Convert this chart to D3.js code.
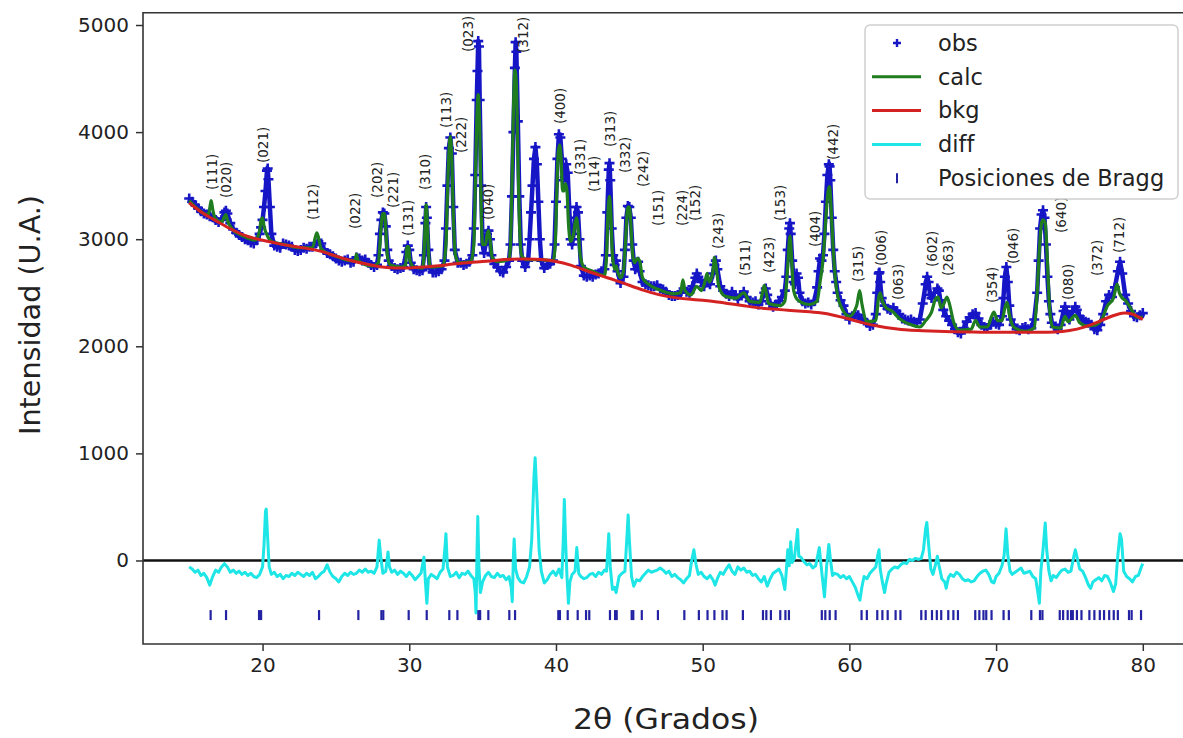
<!DOCTYPE html>
<html lang="es">

<head>
    <meta charset="UTF-8">
    <script src="https://d3js.org/d3.v7.min.js"></script>
    <title>Refinamiento Rietveld</title>
    <style>
        body {
            margin: 0;
            background: #fff;
            overflow: hidden;
        }

        svg {
            display: block;
        }

        text {
            font-family: "DejaVu Sans", sans-serif;
            fill: #222;
        }
    </style>
</head>

<body>
</body>
<script>
    // 2θ (grados) e intensidad
    const obs = [
        [15.0, 3380], [15.2, 3350], [15.4, 3320], [15.6, 3290], [15.8, 3260], [16.0, 3240], [16.2, 3230], [16.4, 3215],
        [16.6, 3205], [16.8, 3180], [17.0, 3160], [17.2, 3180], [17.4, 3250], [17.5, 3265], [17.6, 3240], [17.8, 3150],
        [18.0, 3090], [18.2, 3060], [18.4, 3040], [18.6, 3020], [18.8, 3000], [19.0, 2990], [19.2, 2970], [19.4, 2960],
        [19.6, 2990], [19.8, 3050], [19.9, 3110], [20.0, 3180], [20.1, 3300], [20.2, 3450], [20.3, 3640], [20.35, 3660],
        [20.4, 3560], [20.5, 3300], [20.6, 3050], [20.8, 2940], [21.0, 2930], [21.2, 2920], [21.4, 2960], [21.6, 2950],
        [21.8, 2940], [22.0, 2930], [22.2, 2900], [22.4, 2890], [22.6, 2900], [22.8, 2920], [23.0, 2910], [23.2, 2930],
        [23.4, 2930], [23.6, 2960], [23.8, 2980], [24.0, 2960], [24.2, 2900], [24.4, 2870], [24.6, 2860], [24.8, 2840],
        [25.0, 2820], [25.2, 2800], [25.4, 2790], [25.6, 2800], [25.8, 2810], [26.0, 2780], [26.2, 2790], [26.4, 2830],
        [26.6, 2820], [26.8, 2800], [27.0, 2810], [27.2, 2780], [27.4, 2760], [27.6, 2740], [27.8, 2760], [27.9, 2850],
        [28.0, 3050], [28.1, 3180], [28.2, 3250], [28.3, 3240], [28.4, 3120], [28.5, 2900], [28.6, 2800], [28.8, 2750],
        [29.0, 2730], [29.2, 2720], [29.4, 2730], [29.6, 2740], [29.8, 2880], [29.9, 2940], [30.0, 2900], [30.1, 2780],
        [30.3, 2720], [30.5, 2710], [30.7, 2700], [30.9, 2710], [31.0, 2850], [31.1, 3150], [31.15, 3300], [31.2, 3200],
        [31.3, 2900], [31.4, 2730], [31.6, 2690], [31.8, 2690], [32.0, 2700], [32.2, 2720], [32.4, 2800], [32.5, 3100],
        [32.6, 3500], [32.7, 3850], [32.8, 3950], [32.9, 3800], [33.0, 3300], [33.1, 2900], [33.3, 2780], [33.5, 2780],
        [33.7, 2760], [33.9, 2770], [34.1, 2790], [34.3, 2850], [34.4, 3100], [34.5, 3600], [34.6, 4300], [34.65, 4570],
        [34.7, 4850], [34.75, 4800], [34.8, 4300], [34.9, 3500], [35.0, 2950], [35.1, 2870], [35.2, 2950], [35.3, 3050],
        [35.4, 3080], [35.5, 3000], [35.6, 2850], [35.8, 2770], [36.0, 2740], [36.2, 2700], [36.4, 2690], [36.6, 2740],
        [36.8, 2800], [36.9, 2950], [37.0, 3400], [37.1, 4000], [37.2, 4600], [37.25, 4840], [37.3, 4750], [37.4, 4100],
        [37.5, 3400], [37.6, 2950], [37.7, 2800], [37.9, 2740], [38.1, 2800], [38.2, 3000], [38.3, 3250], [38.4, 3500],
        [38.5, 3750], [38.6, 3860], [38.7, 3700], [38.8, 3350], [38.9, 3000], [39.0, 2800], [39.2, 2730], [39.4, 2760],
        [39.6, 2770], [39.8, 2800], [39.9, 2950], [40.0, 3350], [40.1, 3750], [40.2, 3980], [40.3, 3950], [40.4, 3750],
        [40.5, 3550], [40.6, 3580], [40.7, 3700], [40.8, 3620], [40.9, 3300], [41.0, 3000], [41.1, 2950], [41.2, 3050],
        [41.3, 3200], [41.4, 3300], [41.5, 3250], [41.6, 3000], [41.7, 2750], [41.9, 2660], [42.1, 2650], [42.3, 2660],
        [42.5, 2650], [42.7, 2670], [42.9, 2680], [43.1, 2700], [43.3, 2720], [43.4, 2850], [43.5, 3250], [43.6, 3650],
        [43.65, 3710], [43.7, 3550], [43.8, 3100], [43.9, 2850], [44.0, 2760], [44.1, 2800], [44.2, 2700], [44.4, 2590],
        [44.6, 2650], [44.7, 2900], [44.8, 3200], [44.9, 3310], [45.0, 3300], [45.1, 3200], [45.2, 2950], [45.3, 2800],
        [45.4, 2720], [45.5, 2780], [45.6, 2790], [45.7, 2700], [45.9, 2600], [46.1, 2580], [46.3, 2570], [46.5, 2560],
        [46.7, 2560], [46.9, 2570], [47.1, 2540], [47.3, 2530], [47.5, 2510], [47.7, 2480], [47.9, 2470], [48.1, 2470],
        [48.3, 2480], [48.5, 2500], [48.7, 2540], [48.9, 2510], [49.1, 2500], [49.3, 2560], [49.5, 2640], [49.6, 2680],
        [49.7, 2650], [49.9, 2600], [50.1, 2560], [50.3, 2620], [50.5, 2580], [50.7, 2680], [50.8, 2760], [50.9, 2800],
        [51.0, 2720], [51.2, 2560], [51.4, 2520], [51.6, 2490], [51.8, 2470], [52.0, 2510], [52.2, 2480], [52.4, 2440],
        [52.6, 2480], [52.8, 2510], [53.0, 2460], [53.2, 2420], [53.4, 2410], [53.6, 2420], [53.8, 2390], [54.0, 2420],
        [54.2, 2500], [54.3, 2540], [54.4, 2480], [54.6, 2400], [54.8, 2370], [55.0, 2390], [55.2, 2420], [55.4, 2460],
        [55.6, 2520], [55.7, 2650], [55.8, 2900], [55.9, 3100], [55.95, 3150], [56.0, 3050], [56.1, 2800], [56.2, 2600],
        [56.3, 2580], [56.4, 2680], [56.5, 2640], [56.6, 2500], [56.8, 2420], [57.0, 2400], [57.2, 2410], [57.4, 2390],
        [57.6, 2420], [57.8, 2550], [57.9, 2700], [58.0, 2820], [58.1, 2800], [58.2, 2850], [58.3, 3050], [58.4, 3350],
        [58.5, 3600], [58.6, 3700], [58.65, 3680], [58.7, 3550], [58.8, 3200], [58.9, 2900], [59.0, 2700], [59.1, 2600],
        [59.2, 2500], [59.4, 2430], [59.6, 2380], [59.8, 2300], [60.0, 2250], [60.2, 2280], [60.4, 2300], [60.6, 2290],
        [60.8, 2260], [61.0, 2240], [61.2, 2220], [61.4, 2190], [61.6, 2200], [61.8, 2300], [61.9, 2500], [62.0, 2680],
        [62.05, 2690], [62.1, 2600], [62.2, 2450], [62.4, 2380], [62.6, 2350], [62.8, 2340], [63.0, 2360], [63.2, 2330],
        [63.4, 2300], [63.6, 2260], [63.8, 2250], [64.0, 2240], [64.2, 2250], [64.4, 2230], [64.6, 2220], [64.8, 2250],
        [65.0, 2400], [65.2, 2580], [65.3, 2650], [65.4, 2600], [65.5, 2480], [65.6, 2450], [65.8, 2500], [66.0, 2540],
        [66.1, 2520], [66.2, 2430], [66.4, 2340], [66.6, 2280], [66.8, 2240], [67.0, 2200], [67.2, 2160], [67.4, 2130],
        [67.6, 2120], [67.8, 2170], [68.0, 2230], [68.2, 2270], [68.4, 2300], [68.6, 2310], [68.8, 2260], [69.0, 2200],
        [69.2, 2180], [69.4, 2170], [69.6, 2200], [69.8, 2230], [70.0, 2210], [70.2, 2200], [70.4, 2280], [70.5, 2450],
        [70.6, 2650], [70.7, 2740], [70.8, 2600], [70.9, 2380], [71.0, 2250], [71.2, 2200], [71.4, 2160], [71.6, 2150],
        [71.8, 2170], [72.0, 2180], [72.2, 2160], [72.4, 2170], [72.6, 2250], [72.8, 2500], [72.9, 2800], [73.0, 3100],
        [73.1, 3230], [73.2, 3270], [73.3, 3200], [73.4, 2950], [73.5, 2650], [73.6, 2420], [73.7, 2300], [73.8, 2220],
        [74.0, 2180], [74.2, 2160], [74.4, 2200], [74.6, 2330], [74.7, 2370], [74.8, 2330], [75.0, 2250], [75.2, 2320],
        [75.4, 2370], [75.5, 2340], [75.7, 2280], [75.9, 2250], [76.1, 2230], [76.3, 2220], [76.5, 2200], [76.7, 2160],
        [76.9, 2150], [77.1, 2200], [77.3, 2300], [77.5, 2420], [77.7, 2480], [77.9, 2460], [78.1, 2550], [78.3, 2700],
        [78.45, 2790], [78.6, 2680], [78.8, 2480], [79.0, 2400], [79.2, 2330], [79.4, 2280], [79.6, 2270], [79.8, 2290],
        [80.0, 2310]
    ]

    const calc = [
        [15.0, 3360], [15.5, 3290], [16.0, 3240], [16.3, 3230], [16.45, 3330], [16.5, 3360], [16.6, 3280], [16.8, 3190],
        [17.2, 3160], [17.4, 3210], [17.5, 3230], [17.6, 3180], [17.9, 3100], [18.5, 3040], [19.0, 3010], [19.5, 2990],
        [19.8, 3080], [19.9, 3180], [20.0, 3200], [20.1, 3120], [20.3, 3040], [20.6, 2980], [21.5, 2950], [22.5, 2920],
        [23.4, 2920], [23.6, 3020], [23.7, 3060], [23.8, 3020], [24.0, 2910], [25.0, 2840], [26.0, 2800], [26.3, 2800],
        [26.4, 2860], [26.5, 2800], [27.5, 2750], [27.9, 2780], [28.0, 2950], [28.1, 3150], [28.2, 3240], [28.3, 3240],
        [28.4, 3100], [28.5, 2860], [28.7, 2760], [29.5, 2740], [29.75, 2760], [29.85, 2930], [29.95, 2930], [30.05, 2800],
        [30.3, 2740], [30.9, 2730], [31.0, 2850], [31.1, 3200], [31.15, 3320], [31.2, 3250], [31.3, 2900], [31.45, 2740],
        [32.3, 2750], [32.5, 2950], [32.6, 3400], [32.7, 3800], [32.8, 3960], [32.9, 3750], [33.0, 3250], [33.15, 2850],
        [33.4, 2780], [34.2, 2790], [34.4, 2950], [34.5, 3500], [34.6, 4100], [34.7, 4350], [34.8, 4050], [34.9, 3300],
        [35.0, 2950], [35.2, 2950], [35.3, 3040], [35.4, 3080], [35.5, 3000], [35.65, 2830], [36.0, 2790], [36.8, 2810],
        [36.9, 2950], [37.0, 3500], [37.1, 4200], [37.2, 4580], [37.3, 4450], [37.4, 3800], [37.5, 3200], [37.65, 2850],
        [38.0, 2810], [39.0, 2810], [39.8, 2800], [39.95, 2950], [40.05, 3400], [40.15, 3800], [40.25, 3880], [40.35, 3750],
        [40.45, 3450], [40.55, 3450], [40.65, 3520], [40.75, 3450], [40.85, 3150], [41.0, 2980], [41.2, 3050], [41.3, 3150],
        [41.4, 3200], [41.5, 3100], [41.65, 2850], [41.9, 2740], [42.5, 2700], [43.3, 2660], [43.45, 2850], [43.55, 3250],
        [43.65, 3400], [43.75, 3200], [43.85, 2850], [44.0, 2720], [44.1, 2750], [44.2, 2700], [44.4, 2640], [44.6, 2700],
        [44.75, 3000], [44.9, 3300], [45.0, 3300], [45.1, 3150], [45.2, 2900], [45.35, 2780], [45.55, 2820], [45.7, 2800],
        [45.9, 2640], [46.3, 2580], [47.0, 2530], [48.0, 2490], [48.5, 2500], [48.65, 2620], [48.8, 2520], [49.2, 2480],
        [49.6, 2560], [49.9, 2520], [50.15, 2600], [50.3, 2680], [50.45, 2600], [50.7, 2700], [50.8, 2830], [50.9, 2760],
        [51.1, 2560], [51.5, 2470], [52.3, 2450], [52.8, 2500], [53.2, 2420], [53.9, 2410], [54.1, 2520], [54.2, 2570],
        [54.3, 2520], [54.5, 2400], [55.3, 2380], [55.6, 2420], [55.8, 2750], [55.95, 3030], [56.05, 2850], [56.2, 2520],
        [56.5, 2430], [57.3, 2390], [57.8, 2420], [58.0, 2600], [58.2, 2800], [58.4, 3200], [58.55, 3450], [58.65, 3490],
        [58.75, 3300], [58.9, 2900], [59.1, 2560], [59.4, 2380], [60.0, 2280], [60.5, 2380], [60.7, 2520], [60.85, 2400],
        [61.2, 2230], [61.8, 2240], [62.0, 2460], [62.1, 2500], [62.25, 2420], [62.5, 2360], [62.9, 2330], [63.4, 2260],
        [64.2, 2200], [64.8, 2180], [65.2, 2240], [65.6, 2320], [65.9, 2450], [66.05, 2460], [66.25, 2360], [66.45, 2400],
        [66.65, 2460], [66.85, 2380], [67.1, 2230], [67.5, 2150], [68.3, 2160], [68.6, 2240], [68.9, 2180], [69.4, 2180],
        [69.7, 2280], [69.85, 2320], [70.1, 2240], [70.4, 2240], [70.6, 2360], [70.75, 2410], [70.9, 2300], [71.2, 2180],
        [72.0, 2140], [72.6, 2170], [72.8, 2500], [72.95, 2900], [73.1, 3150], [73.2, 3180], [73.35, 3150], [73.5, 2800],
        [73.65, 2350], [73.85, 2180], [74.4, 2170], [74.7, 2280], [74.9, 2230], [75.4, 2290], [75.7, 2220], [76.2, 2190],
        [76.8, 2200], [77.2, 2250], [77.6, 2380], [78.0, 2450], [78.25, 2580], [78.4, 2500], [78.6, 2450], [78.8, 2430],
        [79.2, 2350], [79.6, 2270], [80.0, 2270]
    ]

    const bkg = [
        [15, 3340], [16, 3230], [17, 3160], [18, 3080], [19, 3020], [20, 2990], [21, 2960], [22, 2935], [23, 2915],
        [24, 2890], [25, 2840], [26, 2800], [27, 2770], [28, 2740], [29, 2730], [30, 2730], [31, 2740], [32, 2750],
        [33, 2770], [34, 2780], [35, 2790], [36, 2805], [37, 2815], [38, 2815], [39, 2812], [40, 2795], [41, 2760],
        [42, 2710], [43, 2660], [44, 2620], [45, 2570], [46, 2520], [47, 2480], [48, 2455], [49, 2440], [50, 2430],
        [51, 2415], [52, 2395], [53, 2375], [54, 2355], [55, 2345], [56, 2335], [57, 2325], [58, 2315], [59, 2290],
        [60, 2255], [61, 2215], [62, 2185], [63, 2165], [64, 2150], [65, 2145], [66, 2140], [67, 2135], [68, 2133],
        [69, 2132], [70, 2132], [71, 2131], [72, 2130], [73, 2130], [74, 2132], [75, 2145], [76, 2175], [77, 2230],
        [78, 2290], [78.8, 2320], [79.4, 2300], [80, 2250]
    ]

    const diff = [
        [15.0, -60], [15.2, -80], [15.4, -110], [15.6, -90], [15.8, -140], [16.0, -120], [16.2, -160], [16.4, -230],
        [16.6, -150], [16.8, -90], [17.0, -110], [17.2, -60], [17.4, -30], [17.6, -60], [17.8, -110], [18.0, -90],
        [18.2, -120], [18.4, -100], [18.6, -130], [18.8, -110], [19.0, -140], [19.2, -120], [19.4, -150], [19.6, -160],
        [19.8, -130], [20.0, -60], [20.1, 150], [20.2, 460], [20.25, 480], [20.35, 200], [20.45, -60], [20.6, -130],
        [20.8, -110], [21.0, -150], [21.2, -130], [21.4, -170], [21.6, -140], [21.8, -150], [22.0, -120], [22.2, -140],
        [22.4, -110], [22.6, -130], [22.8, -150], [23.0, -120], [23.2, -140], [23.4, -110], [23.6, -170], [23.8, -150],
        [24.0, -120], [24.2, -100], [24.4, -40], [24.6, -110], [24.8, -150], [25.0, -170], [25.2, -200], [25.4, -150],
        [25.6, -120], [25.8, -140], [26.0, -110], [26.2, -130], [26.4, -120], [26.6, -90], [26.8, -110], [27.0, -80],
        [27.2, -110], [27.4, -100], [27.6, -120], [27.8, -60], [27.95, 190], [28.05, 40], [28.2, -120], [28.4, -100],
        [28.55, 80], [28.65, -60], [28.8, -110], [29.0, -90], [29.2, -130], [29.4, -100], [29.6, -120], [29.8, -150],
        [30.0, -110], [30.2, -140], [30.4, -180], [30.6, -150], [30.8, -120], [31.0, 30], [31.1, -200], [31.2, -400],
        [31.3, -170], [31.5, -130], [31.7, -150], [31.9, -170], [32.1, -110], [32.3, -80], [32.45, 150], [32.5, 250],
        [32.6, -60], [32.8, -150], [33.0, -140], [33.2, -110], [33.4, -160], [33.6, -120], [33.8, -130], [34.0, -100],
        [34.2, -140], [34.4, -170], [34.5, -300], [34.55, -490], [34.62, 100], [34.67, 410], [34.75, -60], [34.85, -300],
        [35.0, -200], [35.2, -140], [35.4, -110], [35.6, -150], [35.8, -160], [36.0, -120], [36.2, -150], [36.4, -140],
        [36.6, -180], [36.8, -150], [36.95, -250], [37.02, -385], [37.1, 50], [37.15, 200], [37.25, -80], [37.4, -160],
        [37.6, -200], [37.8, -210], [38.0, -150], [38.2, -60], [38.35, 200], [38.5, 780], [38.58, 960], [38.7, 600],
        [38.85, 100], [39.0, -100], [39.2, -210], [39.4, -180], [39.6, -130], [39.8, -100], [40.0, -140], [40.2, -80],
        [40.4, -160], [40.5, 200], [40.57, 570], [40.65, 200], [40.75, -150], [40.85, -400], [40.95, -200], [41.1, -130],
        [41.3, -100], [41.42, 120], [41.55, -120], [41.7, -150], [41.9, -170], [42.1, -160], [42.3, -130], [42.5, -120],
        [42.7, -150], [42.9, -110], [43.1, -130], [43.3, -90], [43.45, -100], [43.6, 250], [43.7, -60], [43.85, -270],
        [44.0, -250], [44.1, -300], [44.3, -150], [44.5, -120], [44.7, -100], [44.85, 250], [44.92, 425], [45.0, 200],
        [45.15, -150], [45.3, -240], [45.5, -180], [45.7, -190], [45.9, -150], [46.1, -120], [46.3, -90], [46.5, -110],
        [46.7, -100], [46.9, -90], [47.1, -70], [47.3, -90], [47.5, -120], [47.7, -100], [47.9, -150], [48.1, -130],
        [48.3, -160], [48.5, -180], [48.7, -210], [48.9, -170], [49.1, -140], [49.25, 0], [49.4, 100], [49.55, -40],
        [49.7, -130], [49.9, -110], [50.1, -150], [50.3, -170], [50.5, -140], [50.7, -180], [50.85, -230], [51.0, -170],
        [51.2, -110], [51.4, -130], [51.6, -80], [51.8, -40], [52.0, -100], [52.2, -130], [52.4, -60], [52.6, -90],
        [52.8, -70], [53.0, -110], [53.2, -100], [53.4, -140], [53.6, -130], [53.8, -170], [54.0, -200], [54.2, -150],
        [54.4, -240], [54.6, -170], [54.8, -120], [55.0, -100], [55.2, -80], [55.4, -140], [55.6, -270], [55.7, -100],
        [55.8, 100], [55.9, -50], [56.0, 175], [56.1, -20], [56.25, 20], [56.4, 200], [56.47, 290], [56.55, 40],
        [56.7, 30], [56.9, -10], [57.1, -40], [57.3, -30], [57.5, -70], [57.7, -50], [57.85, 50], [57.95, 120],
        [58.05, -20], [58.15, -150], [58.3, -340], [58.45, -50], [58.6, 150], [58.7, 20], [58.85, -140], [59.0, -120],
        [59.2, -130], [59.4, -160], [59.6, -140], [59.8, -170], [60.0, -150], [60.2, -200], [60.4, -250], [60.6, -330],
        [60.72, -370], [60.85, -250], [61.0, -150], [61.2, -170], [61.4, -120], [61.6, -90], [61.8, -60], [61.95, 60],
        [62.02, 100], [62.1, -80], [62.25, -200], [62.4, -300], [62.5, -220], [62.7, -110], [62.9, -80], [63.1, -60],
        [63.3, -70], [63.5, -40], [63.7, -20], [63.9, -30], [64.1, 10], [64.3, 0], [64.5, 20], [64.7, 10], [64.9, 20],
        [65.05, 100], [65.2, 300], [65.28, 355], [65.4, 150], [65.55, -80], [65.7, -130], [65.85, -50], [66.0, 40],
        [66.1, -40], [66.3, -170], [66.5, -200], [66.6, -260], [66.75, -160], [66.9, -130], [67.1, -150], [67.3, -110],
        [67.5, -130], [67.7, -170], [67.9, -190], [68.1, -180], [68.3, -200], [68.5, -190], [68.7, -150], [68.9, -120],
        [69.1, -100], [69.3, -90], [69.5, -130], [69.7, -200], [69.85, -210], [70.0, -150], [70.2, -120], [70.4, -50],
        [70.55, 50], [70.68, 295], [70.8, 50], [70.95, -100], [71.1, -130], [71.3, -110], [71.5, -90], [71.7, -70],
        [71.9, -120], [72.1, -110], [72.3, -100], [72.5, -150], [72.7, -170], [72.88, -330], [72.95, -400], [73.05, -100],
        [73.2, 100], [73.35, 350], [73.45, 100], [73.6, -100], [73.75, -190], [73.9, -140], [74.1, -160], [74.3, -120],
        [74.5, -90], [74.7, -80], [74.9, -110], [75.1, -100], [75.3, 40], [75.4, 100], [75.5, 40], [75.7, -80],
        [75.9, -100], [76.1, -160], [76.3, -230], [76.45, -260], [76.6, -200], [76.8, -180], [77.0, -160], [77.2, -190],
        [77.4, -140], [77.6, -150], [77.8, -210], [78.0, -290], [78.15, -220], [78.3, 50], [78.45, 250], [78.55, 200],
        [78.7, -100], [78.9, -150], [79.1, -170], [79.3, -200], [79.5, -150], [79.7, -140], [79.9, -60], [80.0, -30]
    ]

    const braggPos = [
        16.46, 17.51, 19.76, 19.9, 23.85, 26.53, 28.1, 28.23, 29.96, 31.19, 32.73, 33.28, 34.71, 34.83, 35.39,
        36.82, 37.21, 40.16, 40.27, 40.8, 41.48, 42.05, 42.27, 43.68, 44.03, 44.14, 45.16, 45.27, 45.85, 46.95,
        48.75, 49.74, 50.33, 50.8, 51.35, 51.63, 52.74, 54.11, 54.34, 54.65, 55.29, 55.64, 55.88, 58.12, 58.36,
        58.66, 59.06, 60.83, 61.19, 61.9, 62.25, 62.61, 63.15, 63.48, 64.9, 65.2, 65.63, 65.96, 66.26, 66.74,
        67.09, 67.4, 68.58, 68.86, 69.14, 69.33, 69.69, 70.51, 70.87, 72.4, 72.99, 73.16, 74.34, 74.57, 74.88,
        75.11, 75.23, 75.51, 75.82, 76.36, 76.7, 77.07, 77.36, 77.71, 78.02, 78.3, 79.06, 79.24, 79.88
    ]
    const braggLevel = -510

    const hklLabels = ["(111)", "(020)", "(021)", "(112)", "(022)", "(202)", "(221)", "(131)", "(310)", "(113)",
        "(222)", "(023)", "(040)", "(312)", "(400)", "(331)", "(114)", "(313)", "(332)", "(242)", "(151)", "(224)",
        "(152)", "(243)", "(511)", "(423)", "(153)", "(404)", "(442)", "(315)", "(006)", "(063)", "(602)", "(263)",
        "(354)", "(046)", "(640)", "(080)", "(372)", "(712)"]
    const hklX = [16.53, 17.51, 20.01, 23.46, 26.3, 27.78, 28.91, 29.94, 31.07, 32.51,
        33.53, 34.03, 35.39, 37.77, 40.28, 41.64, 42.61, 43.68, 44.71, 45.95, 46.94, 48.57,
        49.48, 51.07, 52.89, 54.54, 55.27, 57.66, 58.87, 60.61, 62.14, 63.34, 65.61, 66.75,
        69.7, 71.18, 74.41, 74.93, 76.86, 78.4]
    const hklY = [3459, 3385, 3711, 3180, 3096, 3385, 3292, 3030, 3459, 4038,
        3805, 4748, 3180, 4739, 4075, 3599, 3441, 3861, 3618, 3487, 3123, 3123,
        3170, 2909, 2656, 2684, 3170, 2927, 3740, 2600, 2749, 2432, 2740, 2656,
        2404, 2768, 3058, 2432, 2656, 2871]

    const xTicks = [20, 30, 40, 50, 60, 70, 80]
    const yTicks = [0, 1000, 2000, 3000, 4000, 5000]
    const legendLabels = ["obs", "calc", "bkg", "diff", "Posiciones de Bragg"]

    const width = 1183
    const height = 738
    // el eje derecho queda fuera de la imagen (recortada)
    const plot = { left: 143, right: 1189, top: 12.7, bottom: 644 }

    const colors = {
        obs: "#1616c6",
        calc: "#1f7d1f",
        bkg: "#d42222",
        diff: "#1ee6e6",
        bragg: "#2222a2"
    }

    const xScale = d3.scaleLinear()
        .domain([11.85, 83.15])
        .range([plot.left, plot.right])
    const yScale = d3.scaleLinear()
        .domain([-780, 5115])
        .range([plot.bottom, plot.top])

    const svg = d3.select("body").append("svg")
        .attr("width", width)
        .attr("height", height)

    svg.append("clipPath").attr("id", "area")
        .append("rect")
        .attr("x", plot.left).attr("y", plot.top)
        .attr("width", width - plot.left).attr("height", plot.bottom - plot.top)

    const g = svg.append("g").attr("clip-path", "url(#area)")

    const line = d3.line()
        .x(d => xScale(d[0]))
        .y(d => yScale(d[1]))

    // obs: marcadores "+"
    const plus = "M-5,0H5M0,-5V5"
    g.append("path")
        .attr("d", line(obs))
        .attr("fill", "none")
        .attr("stroke", colors.obs)
        .attr("stroke-width", 4.5)
        .attr("stroke-linejoin", "round")
    g.selectAll(".obs")
        .data(obs)
        .enter()
        .append("path")
        .attr("class", "obs")
        .attr("transform", d => `translate(${xScale(d[0])},${yScale(d[1])})`)
        .attr("d", plus)
        .attr("stroke", colors.obs)
        .attr("stroke-width", 2.6)

    g.append("path")
        .attr("d", line.curve(d3.curveMonotoneX)(calc))
        .attr("fill", "none")
        .attr("stroke", colors.calc)
        .attr("stroke-width", 3.2)

    g.append("path")
        .attr("d", line.curve(d3.curveBasis)(bkg))
        .attr("fill", "none")
        .attr("stroke", colors.bkg)
        .attr("stroke-width", 3)

    // linea de cero
    g.append("line")
        .attr("x1", plot.left).attr("x2", width)
        .attr("y1", yScale(0)).attr("y2", yScale(0))
        .attr("stroke", "#111")
        .attr("stroke-width", 2.5)

    g.append("path")
        .attr("d", line.curve(d3.curveLinear)(diff))
        .attr("fill", "none")
        .attr("stroke", colors.diff)
        .attr("stroke-width", 3)
        .attr("stroke-linejoin", "round")

    g.selectAll(".bragg")
        .data(braggPos)
        .enter()
        .append("line")
        .attr("class", "bragg")
        .attr("x1", d => xScale(d)).attr("x2", d => xScale(d))
        .attr("y1", yScale(braggLevel) - 5).attr("y2", yScale(braggLevel) + 5)
        .attr("stroke", colors.bragg)
        .attr("stroke-width", 2.2)

    // etiquetas hkl
    svg.selectAll(".hkl")
        .data(hklLabels)
        .enter()
        .append("text")
        .attr("class", "hkl")
        .attr("transform", (d, i) => `translate(${xScale(hklX[i])},${yScale(hklY[i])}) rotate(-90)`)
        .attr("dy", "0.36em")
        .attr("font-size", 13.5)
        .text(d => d)

    // ejes
    svg.append("g")
        .attr("transform", `translate(0,${plot.bottom})`)
        .call(d3.axisBottom(xScale).tickValues(xTicks).tickSize(7).tickPadding(7).tickFormat(d3.format("d")))
    svg.append("g")
        .attr("transform", `translate(${plot.left},0)`)
        .call(d3.axisLeft(yScale).tickValues(yTicks).tickSize(7).tickPadding(7).tickFormat(d3.format("d")))
    svg.selectAll(".domain").remove()
    svg.selectAll(".tick line").attr("stroke", "#333").attr("stroke-width", 1.5)
    svg.selectAll(".tick text")
        .attr("font-size", 20)
        .attr("font-family", "DejaVu Sans")
        .attr("fill", "#222")

    // marco: izquierda, arriba y abajo
    svg.append("path")
        .attr("d", `M${width},${plot.top}H${plot.left}V${plot.bottom}H${width}`)
        .attr("fill", "none")
        .attr("stroke", "#333")
        .attr("stroke-width", 1.6)

    svg.append("text")
        .attr("transform", "translate(40,315) rotate(-90)")
        .attr("text-anchor", "middle")
        .attr("font-family", "Open Sans, sans-serif")
        .attr("font-size", 29)
        .attr("textLength", 240)
        .attr("lengthAdjust", "spacingAndGlyphs")
        .text("Intensidad  (U.A.)")

    svg.append("text")
        .attr("x", (plot.left + plot.right) / 2)
        .attr("y", 729)
        .attr("text-anchor", "middle")
        .attr("font-family", "Open Sans, sans-serif")
        .attr("font-size", 29)
        .attr("textLength", 186)
        .attr("lengthAdjust", "spacingAndGlyphs")
        .text("2θ (Grados)")

    // leyenda
    const legend = svg.append("g").attr("transform", "translate(865,25)")
    legend.append("rect")
        .attr("width", 313).attr("height", 174)
        .attr("rx", 5)
        .attr("fill", "#fff").attr("fill-opacity", 0.85)
        .attr("stroke", "#d0d0d0").attr("stroke-width", 1.5)
    const rows = legend.selectAll(".row")
        .data(legendLabels)
        .enter()
        .append("g")
        .attr("class", "row")
        .attr("transform", (d, i) => `translate(0,${18 + i * 33.8})`)
    rows.append("text")
        .attr("x", 73)
        .attr("dy", "0.35em")
        .attr("font-size", 22.5)
        .text(d => d)
    rows.each(function (d, i) {
        const r = d3.select(this)
        if (i === 0) {
            r.append("path").attr("transform", "translate(32,0)").attr("d", "M-4,0H4M0,-4V4")
                .attr("stroke", colors.obs).attr("stroke-width", 2.4)
        } else if (i === 4) {
            r.append("line").attr("x1", 32).attr("x2", 32).attr("y1", -5).attr("y2", 5)
                .attr("stroke", colors.bragg).attr("stroke-width", 2)
        } else {
            r.append("line").attr("x1", 7).attr("x2", 56)
                .attr("stroke", [null, colors.calc, colors.bkg, colors.diff][i])
                .attr("stroke-width", 3)
        }
    })
</script>

</html>
